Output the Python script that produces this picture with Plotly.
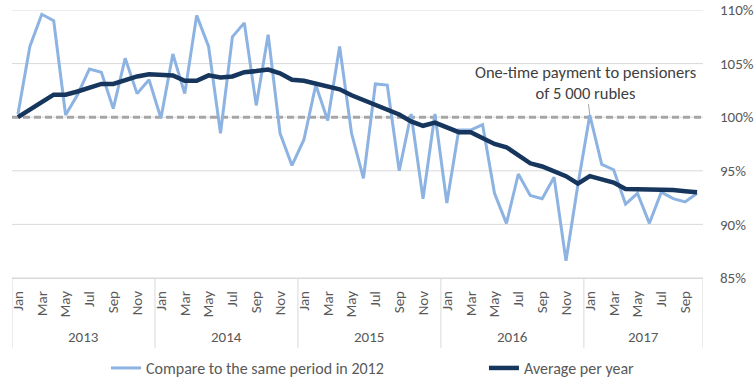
import plotly.graph_objects as go

years = ["2013", "2014", "2015", "2016", "2017"]
month_names = ["Jan", "Feb", "Mar", "Apr", "May", "Jun",
               "Jul", "Aug", "Sep", "Oct", "Nov", "Dec"]
months_in_2017 = 10

periods = []
for y in years:
    n = months_in_2017 if y == "2017" else 12
    for m in month_names[:n]:
        periods.append(f"{m} {y}")

compare_2012 = [
    100.3, 106.6, 109.6, 109.0, 100.2, 102.1, 104.5, 104.2, 100.8, 105.5, 102.2, 103.5,
    99.9, 105.9, 102.2, 109.5, 106.6, 98.5, 107.5, 108.8, 101.1, 107.7, 98.5, 95.5,
    97.9, 103.0, 99.7, 106.6, 98.5, 94.3, 103.1, 103.0, 95.0, 100.3, 92.4, 100.3,
    92.0, 98.8, 98.8, 99.3, 92.9, 90.1, 94.7, 92.7, 92.4, 94.4, 86.6, 93.7,
    100.2, 95.6, 95.1, 91.9, 92.9, 90.1, 93.0, 92.4, 92.1, 92.9,
]
average_per_year = [
    100.0, 100.65, 101.4, 102.1, 102.1, 102.4, 102.8, 103.1, 103.1, 103.5, 103.8, 104.0,
    104.0, 103.9, 103.4, 103.4, 103.9, 103.7, 103.8, 104.2, 104.3, 104.45, 104.1, 103.5,
    103.4, 103.1, 102.9, 102.6, 102.05, 101.6, 101.2, 100.8, 100.25, 99.6, 99.2, 99.5,
    99.0, 98.6, 98.6, 98.0, 97.5, 97.2, 96.5, 95.7, 95.4, 95.0, 94.5, 93.8,
    94.5, 94.2, 93.9, 93.3, 93.3, 93.3, 93.2, 93.2, 93.1, 93.0,
]
y_ticks = [85, 90, 95, 100, 105, 110]
baseline = 100
event_period = "Jan 2017"
event_text = "One-time payment to pensioners<br>of 5 000 rubles"

FONT = "Carlito, Calibri, Lato, sans-serif"
GRID = "#d9d9d9"
TXT = "#595959"

fig = go.Figure()
fig.add_trace(go.Scatter(
    x=periods, y=compare_2012, mode="lines",
    name="Compare to the same period in 2012",
    line=dict(color="#8db3e2", width=3), legend="legend",
))
fig.add_trace(go.Scatter(
    x=periods, y=average_per_year, mode="lines",
    name="Average per year",
    line=dict(color="#17365d", width=4.5), legend="legend2",
))

# horizontal gridlines (drawn as shapes so the dashed baseline sits on top of them)
for v in y_ticks:
    fig.add_shape(type="line", xref="paper", x0=0, x1=1, yref="y", y0=v, y1=v,
                  line=dict(color=GRID, width=1), layer="below")
# baseline dashed line
fig.add_shape(type="line", xref="paper", x0=0, x1=1, yref="y", y0=baseline, y1=baseline,
              line=dict(color="#a6a6a6", width=3, dash="7px,4px"), layer="below")

# year group separators and labels
n = len(periods)
sep_bottom = -0.262
start = 0
for y in years:
    cnt = sum(1 for p in periods if p.endswith(y))
    fig.add_shape(type="line", xref="x", x0=start - 0.5, x1=start - 0.5,
                  yref="paper", y0=0, y1=sep_bottom, line=dict(color=GRID, width=1))
    fig.add_annotation(x=start + (cnt - 1) / 2, y=-0.222, xref="x", yref="paper",
                       text=y, showarrow=False, yanchor="middle",
                       font=dict(family=FONT, size=15, color=TXT))
    start += cnt
fig.add_shape(type="line", xref="x", x0=start - 0.5, x1=start - 0.5,
              yref="paper", y0=0, y1=sep_bottom, line=dict(color=GRID, width=1))

ev_y = compare_2012[periods.index(event_period)]
fig.add_annotation(x=event_period, y=ev_y, xref="x", yref="y",
                   text=event_text, showarrow=True, arrowhead=0, arrowwidth=1,
                   arrowcolor="#a6a6a6", ax=-4, ay=-33, align="center",
                   font=dict(family=FONT, size=16.5, color="#404040"))

tickvals = [p for i, p in enumerate(periods) if i % 2 == 0]
ticktext = [p.split()[0] for p in tickvals]

legend_common = dict(orientation="h", y=-0.336, yanchor="middle", xanchor="left",
                     font=dict(family=FONT, size=16, color=TXT),
                     bgcolor="rgba(0,0,0,0)")

fig.update_layout(
    width=756, height=382,
    margin=dict(l=12, r=53, t=10, b=104, autoexpand=False),
    paper_bgcolor="white", plot_bgcolor="white",
    font=dict(family=FONT, size=14, color=TXT),
    showlegend=True,
    legend=dict(x=0.136, **legend_common),
    legend2=dict(x=0.683, **legend_common),
    xaxis=dict(type="category", categoryorder="array", categoryarray=periods,
               range=[-0.5, n - 0.5], tickvals=tickvals, ticktext=ticktext,
               tickangle=-90, showgrid=False, showline=True, linecolor=GRID,
               ticks="", ticklabelstandoff=6, automargin=False,
               tickfont=dict(size=15, color=TXT)),
    yaxis=dict(side="right", range=[85, 110], tickvals=y_ticks,
               ticktext=[f"{v}%" for v in y_ticks], showgrid=False,
               zeroline=False, showline=False, ticks="", ticklabelstandoff=16,
               automargin=False, tickfont=dict(size=15, color=TXT)),
)

fig.write_html("out.html",
               config={"displayModeBar": False},
               post_script="document.body.style.margin='0';"
                           "document.body.style.overflow='hidden';")
